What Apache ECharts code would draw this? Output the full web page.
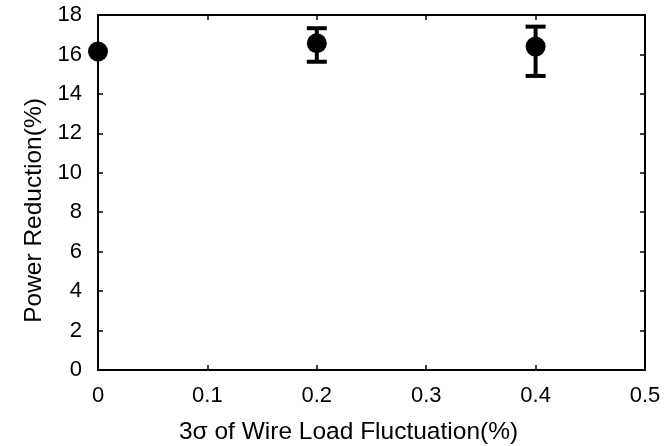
<!DOCTYPE html>
<html>
<head>
<meta charset="utf-8">
<script src="https://cdn.jsdelivr.net/npm/echarts@6/dist/echarts.min.js"></script>
<style>html,body{margin:0;padding:0;background:#fff}#c{width:665px;height:446px}</style>
</head>
<body>
<div id="c"></div>
<script>
const xValues = [0, 0.2, 0.4];
const meanValues = [16.15, 16.57, 16.4];
const upperValues = [16.15, 17.33, 17.41];
const lowerValues = [16.15, 15.63, 14.91];
const xTicks = [0, 0.1, 0.2, 0.3, 0.4, 0.5];
const yTicks = [0, 2, 4, 6, 8, 10, 12, 14, 16, 18];
const xTitle = '3σ of Wire Load Fluctuation(%)';
const yTitle = 'Power Reduction(%)';

const font = 'Liberation Sans, Arial, Helvetica, sans-serif';
const chart = echarts.init(document.getElementById('c'), null, {renderer: 'canvas'});

const errData = xValues.map((x, i) => [x, lowerValues[i], upperValues[i]]);
const ptData = xValues.map((x, i) => [x, meanValues[i]]);

const axisCommon = {
  axisLine: {show: true, onZero: false, lineStyle: {color: '#000', width: 2}},
  axisTick: {show: true, inside: true, length: 5, lineStyle: {color: '#000', width: 1.5}},
  splitLine: {show: false}
};

chart.setOption({
  animation: false,
  backgroundColor: '#fff',
  grid: {left: 98, right: 20, top: 15, bottom: 76, containLabel: false, outerBoundsMode: 'none'},
  xAxis: [
    Object.assign({}, axisCommon, {
      type: 'value', position: 'bottom', min: 0, max: 0.5, interval: 0.1,
      name: xTitle, nameLocation: 'middle', nameGap: 50,
      nameTextStyle: {color: '#000', fontSize: 24.5, fontFamily: font, padding: [0, 46, 0, 0]},
      axisLabel: {color: '#000', fontSize: 22, fontFamily: font, margin: 15,
        formatter: v => { const t = xTicks.find(k => Math.abs(k - v) < 1e-9); return t === undefined ? '' : String(t); }}
    }),
    Object.assign({}, axisCommon, {
      type: 'value', position: 'top', min: 0, max: 0.5, interval: 0.1,
      axisLabel: {show: false}
    })
  ],
  yAxis: [
    Object.assign({}, axisCommon, {
      type: 'value', position: 'left', min: 0, max: 18, interval: 2,
      name: yTitle, nameLocation: 'middle', nameGap: 51,
      nameTextStyle: {color: '#000', fontSize: 24.5, fontFamily: font, padding: [0, 36, 0, 0]},
      axisLabel: {color: '#000', fontSize: 22, fontFamily: font, margin: 16,
        formatter: v => { const t = yTicks.find(k => Math.abs(k - v) < 1e-9); return t === undefined ? '' : String(t); }}
    }),
    Object.assign({}, axisCommon, {
      type: 'value', position: 'right', min: 0, max: 18, interval: 2,
      axisLabel: {show: false}
    })
  ],
  series: [
    {
      type: 'custom',
      xAxisIndex: 0, yAxisIndex: 0,
      data: errData,
      renderItem: function (params, api) {
        const x = api.value(0), lo = api.value(1), hi = api.value(2);
        if (hi - lo < 1e-6) return null;
        const pLo = api.coord([x, lo]);
        const pHi = api.coord([x, hi]);
        const hw = 10;
        const style = {stroke: '#000', lineWidth: 4};
        return {
          type: 'group',
          children: [
            {type: 'line', shape: {x1: pLo[0], y1: pLo[1], x2: pHi[0], y2: pHi[1]}, style: style},
            {type: 'line', shape: {x1: pLo[0] - hw, y1: pLo[1], x2: pLo[0] + hw, y2: pLo[1]}, style: style},
            {type: 'line', shape: {x1: pHi[0] - hw, y1: pHi[1], x2: pHi[0] + hw, y2: pHi[1]}, style: style}
          ]
        };
      },
      z: 3
    },
    {
      type: 'scatter',
      xAxisIndex: 0, yAxisIndex: 0,
      data: ptData,
      symbol: 'circle',
      symbolSize: 20,
      itemStyle: {color: '#000', opacity: 1},
      z: 4
    }
  ]
});
</script>
</body>
</html>
